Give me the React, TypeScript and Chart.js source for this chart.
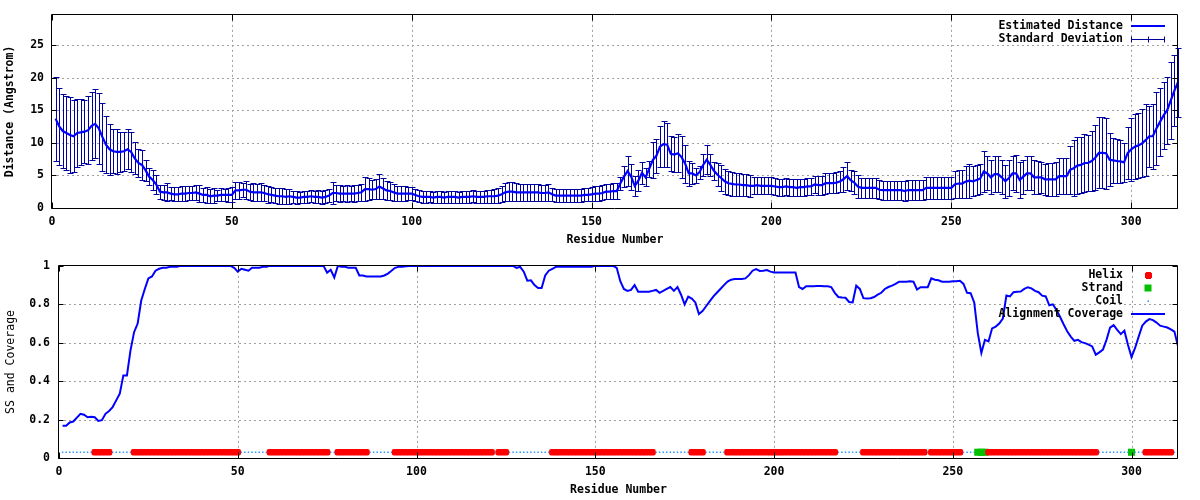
import React, { useEffect, useRef } from "react";
import { Chart, registerables } from "chart.js";

Chart.register(...registerables);

const FONT = '"DejaVu Sans Mono", "Liberation Mono", monospace';

// ---------- data ----------
const residueCount = 313;
const residues = Array.from({ length: residueCount }, (_, i) => i + 1);

const distance = [
  13.7, 12.5, 11.8, 11.5, 11.2, 11.0, 11.5, 11.6, 11.7, 11.9,
  12.6, 12.9, 12.2, 10.9, 9.7, 9.0, 8.7, 8.6, 8.6, 8.7,
  9.0, 8.6, 7.6, 6.9, 6.6, 5.8, 4.8, 4.3, 3.6, 2.5,
  2.4, 2.4, 2.2, 2.1, 2.1, 2.2, 2.2, 2.3, 2.3, 2.4,
  2.2, 2.0, 2.0, 1.8, 1.9, 1.9, 2.0, 2.0, 2.0, 2.0,
  2.7, 2.7, 2.8, 2.8, 2.5, 2.4, 2.4, 2.4, 2.3, 2.1,
  2.0, 1.9, 1.8, 1.8, 1.7, 1.8, 1.7, 1.6, 1.6, 1.7,
  1.7, 1.8, 1.7, 1.7, 1.6, 1.7, 1.9, 2.3, 2.3, 2.2,
  2.2, 2.2, 2.2, 2.2, 2.3, 2.4, 2.9, 2.9, 2.8, 2.9,
  3.3, 3.0, 2.7, 2.6, 2.4, 2.2, 2.2, 2.2, 2.2, 2.2,
  2.0, 1.8, 1.7, 1.7, 1.7, 1.6, 1.7, 1.7, 1.6, 1.7,
  1.7, 1.7, 1.6, 1.7, 1.7, 1.7, 1.8, 1.7, 1.7, 1.7,
  1.8, 1.8, 1.8, 1.9, 2.1, 2.4, 2.5, 2.5, 2.4, 2.4,
  2.4, 2.4, 2.4, 2.4, 2.4, 2.3, 2.3, 2.4, 2.1, 1.9,
  1.9, 1.9, 1.9, 1.9, 1.9, 1.9, 1.9, 2.0, 2.0, 2.1,
  2.2, 2.2, 2.3, 2.5, 2.5, 2.6, 2.6, 3.8, 4.8, 5.65,
  4.8, 3.4, 4.2, 5.4, 4.7, 6.0, 7.35, 8.0, 9.4, 9.8,
  9.7, 8.3, 8.2, 8.4, 7.8, 6.8, 5.3, 5.3, 5.0, 5.5,
  6.6, 7.4, 6.6, 5.7, 5.1, 4.6, 4.1, 3.8, 3.7, 3.6,
  3.6, 3.5, 3.5, 3.4, 3.4, 3.5, 3.4, 3.4, 3.4, 3.4,
  3.3, 3.2, 3.2, 3.3, 3.2, 3.2, 3.1, 3.2, 3.2, 3.3,
  3.3, 3.6, 3.5, 3.5, 3.8, 3.8, 3.8, 3.9, 4.05, 4.4,
  4.9, 4.25, 3.9, 3.3, 3.1, 3.1, 3.1, 3.1, 3.1, 2.8,
  2.75, 2.75, 2.75, 2.75, 2.75, 2.75, 2.6, 2.75, 2.75, 2.75,
  2.75, 2.75, 3.1, 3.1, 3.1, 3.1, 3.1, 3.1, 3.1, 3.1,
  3.65, 3.75, 3.75, 4.05, 4.2, 4.1, 4.3, 4.5, 5.6, 5.3,
  4.7, 5.2, 5.2, 4.7, 4.1, 4.6, 5.3, 5.3, 4.3, 4.8,
  5.3, 5.3, 4.7, 4.7, 4.7, 4.4, 4.4, 4.4, 4.4, 4.9,
  4.9, 4.9, 5.85, 6.1, 6.5, 6.6, 6.9, 6.9, 7.2, 7.7,
  8.45, 8.45, 8.4, 7.4, 7.3, 7.2, 7.15, 7.0, 8.4, 9.0,
  9.4, 9.6, 9.9, 10.4, 11.0, 11.0, 12.2, 13.2, 14.2, 15.0,
  16.5, 18.0, 19.3,
];

const stdDev = [
  6.45, 5.95, 5.7, 5.65, 5.85, 5.55, 5.2, 5.05, 4.85, 5.2,
  5.2, 5.3, 5.4, 5.25, 4.35, 3.95, 3.35, 3.45, 3.1, 3.0,
  3.05, 3.05, 2.45, 2.1, 2.25, 1.6, 1.3, 1.55, 1.45, 1.05,
  1.2, 1.4, 1.0, 1.05, 1.05, 1.15, 1.1, 1.05, 1.0, 1.2,
  1.3, 1.1, 1.2, 1.1, 1.1, 0.9, 1.0, 0.9, 1.05, 1.15,
  1.35, 1.3, 1.1, 1.35, 1.2, 1.4, 1.35, 1.4, 1.3, 1.3,
  1.15, 1.2, 1.25, 1.25, 1.15, 1.15, 0.95, 0.95, 0.9, 0.95,
  0.95, 0.9, 0.95, 1.0, 0.95, 1.0, 1.0, 1.65, 1.25, 1.25,
  1.2, 1.25, 1.2, 1.25, 1.2, 1.3, 1.85, 1.7, 1.45, 1.5,
  1.9, 1.6, 1.45, 1.35, 1.3, 1.2, 1.1, 1.1, 1.05, 1.0,
  0.95, 0.9, 0.9, 0.9, 0.85, 0.9, 0.9, 0.9, 0.9, 0.9,
  0.9, 0.9, 0.85, 0.9, 0.9, 0.9, 0.9, 0.9, 0.9, 0.95,
  1.0, 1.0, 1.05, 1.1, 1.2, 1.4, 1.45, 1.45, 1.4, 1.35,
  1.35, 1.35, 1.35, 1.35, 1.35, 1.3, 1.3, 1.35, 1.0, 0.95,
  0.95, 0.95, 0.95, 0.95, 0.95, 0.95, 0.95, 1.0, 1.0, 1.1,
  1.15, 1.15, 1.15, 1.15, 1.15, 1.2, 1.2, 1.0, 1.6, 2.25,
  2.0, 1.5, 1.6, 1.7, 1.4, 1.2, 2.75, 2.65, 3.1, 3.5,
  3.4, 2.7, 2.75, 2.9, 3.25, 2.9, 1.95, 1.65, 1.15, 1.0,
  1.65, 2.25, 1.75, 1.4, 1.8, 1.95, 1.95, 1.85, 1.8, 1.75,
  1.75, 1.7, 1.7, 1.65, 1.3, 1.3, 1.3, 1.3, 1.3, 1.3,
  1.3, 1.3, 1.3, 1.3, 1.3, 1.3, 1.3, 1.3, 1.3, 1.3,
  1.3, 1.3, 1.45, 1.45, 1.6, 1.5, 1.5, 1.65, 1.65, 1.9,
  2.1, 1.65, 1.7, 1.8, 1.5, 1.5, 1.5, 1.5, 1.5, 1.45,
  1.45, 1.45, 1.45, 1.45, 1.45, 1.45, 1.5, 1.55, 1.55, 1.55,
  1.55, 1.55, 1.7, 1.7, 1.7, 1.7, 1.7, 1.7, 1.7, 1.7,
  2.05, 2.15, 2.15, 2.45, 2.6, 2.3, 2.3, 2.3, 3.1, 2.6,
  2.6, 2.8, 2.7, 2.6, 2.5, 2.8, 2.6, 2.9, 2.7, 2.6,
  2.6, 2.6, 2.6, 2.5, 2.4, 2.4, 2.5, 2.5, 2.6, 2.7,
  2.8, 2.8, 3.65, 4.3, 4.4, 4.3, 4.4, 4.3, 4.6, 5.0,
  5.45, 5.45, 5.45, 4.05, 3.5, 3.4, 3.35, 3.0, 4.0, 4.85,
  4.95, 4.95, 5.2, 5.55, 4.65, 5.0, 5.65, 5.25, 5.1, 5.15,
  5.85, 5.5, 5.3,
];

const coverage = [
  0.168, 0.168, 0.185, 0.19, 0.21, 0.23, 0.225, 0.212, 0.215, 0.212,
  0.193, 0.197, 0.23, 0.245, 0.265, 0.30, 0.335, 0.43, 0.43, 0.56,
  0.655, 0.70, 0.82, 0.88, 0.935, 0.945, 0.975, 0.985, 0.99, 0.99,
  0.995, 0.995, 0.995, 1, 1, 1, 1, 1, 1, 1,
  1, 1, 1, 1, 1, 1, 1, 1, 0.99, 0.97,
  0.985, 0.98, 0.975, 0.99, 0.99, 0.99, 0.995, 0.995, 1, 1,
  1, 1, 1, 1, 1, 1, 1, 1, 1, 1,
  1, 1, 1, 1, 0.965, 0.98, 0.94, 1, 0.995, 0.995,
  0.99, 0.99, 0.99, 0.95, 0.95, 0.945, 0.945, 0.945, 0.945, 0.945,
  0.95, 0.96, 0.975, 0.99, 0.995, 0.995, 0.998, 1, 1, 1,
  1, 1, 1, 1, 1, 1, 1, 1, 1, 1,
  1, 1, 1, 1, 1, 1, 1, 1, 1, 1,
  1, 1, 1, 1, 1, 1, 1, 0.99, 0.995, 0.97,
  0.923, 0.925, 0.9, 0.885, 0.885, 0.95, 0.975, 0.985, 0.995, 0.995,
  0.995, 0.995, 0.995, 0.995, 0.995, 0.995, 0.995, 0.995, 0.995, 1,
  1, 1, 1, 1, 1, 0.99, 0.92, 0.88, 0.87, 0.875,
  0.9, 0.865, 0.865, 0.865, 0.865, 0.87, 0.875, 0.86, 0.87, 0.88,
  0.89, 0.87, 0.89, 0.85, 0.80, 0.84, 0.83, 0.81, 0.75, 0.765,
  0.79, 0.815, 0.84, 0.86, 0.88, 0.9, 0.918, 0.928, 0.932, 0.932,
  0.932, 0.935, 0.952, 0.975, 0.983, 0.974, 0.975, 0.978, 0.97, 0.966,
  0.966, 0.966, 0.966, 0.966, 0.966, 0.966, 0.89, 0.88, 0.894, 0.894,
  0.894, 0.895, 0.895, 0.894, 0.894, 0.89, 0.86, 0.838, 0.835, 0.834,
  0.812, 0.81, 0.897, 0.88, 0.832, 0.83, 0.832, 0.838, 0.85, 0.86,
  0.88, 0.89, 0.897, 0.906, 0.918, 0.918, 0.918, 0.92, 0.918, 0.877,
  0.889, 0.889, 0.889, 0.935, 0.928, 0.925, 0.918, 0.918, 0.918, 0.92,
  0.92, 0.923, 0.906, 0.86, 0.858, 0.81, 0.65, 0.547, 0.615, 0.607,
  0.675, 0.684, 0.70, 0.726, 0.846, 0.841, 0.863, 0.865, 0.867, 0.88,
  0.889, 0.883, 0.87, 0.863, 0.845, 0.841, 0.795, 0.80, 0.77, 0.735,
  0.696, 0.66, 0.632, 0.61, 0.615, 0.603, 0.598, 0.59, 0.581, 0.538,
  0.55, 0.564, 0.615, 0.679, 0.692, 0.667, 0.645, 0.663, 0.59, 0.525,
  0.573, 0.632, 0.689, 0.71, 0.723, 0.718, 0.705, 0.689, 0.684, 0.679,
  0.67, 0.658, 0.581,
];

// secondary structure segments (residue ranges, inclusive)
const helixSegments = [
  [10, 14], [21, 50], [59, 75], [78, 86], [94, 121], [123, 125], [138, 166],
  [177, 180], [187, 217], [225, 242], [244, 252], [260, 290], [304, 311],
];
const strandSegments = [[257, 259], [300, 300]];
const ssLevel = 0.03;

// axes
const xRange = [0, 313];
const distRange = [0, 29.6];
const covRange = [0, 1];
const xTicks = [0, 50, 100, 150, 200, 250, 300];
const distTicks = [0, 5, 10, 15, 20, 25];
const covTicks = [0, 0.2, 0.4, 0.6, 0.8, 1];
const covTickLabels = ["0", "0.2", "0.4", "0.6", "0.8", "1"];

const topLegendLabels = ["Estimated Distance", "Standard Deviation"];
const bottomLegendLabels = ["Helix", "Strand", "Coil", "Alignment Coverage"];
const xTitle = "Residue Number";
const topYTitle = "Distance (Angstrom)";
const bottomYTitle = "SS and Coverage";

// colours
const LINE_BLUE = "#0000ff";
const ERR_BLUE = "#0000a0";
const HELIX_RED = "#ff0000";
const STRAND_GREEN = "#00c000";
const COIL_BLUE = "#1e90ff";
const GRID_GRAY = "#a0a0a0";

// ---------- helpers ----------
const inSegments = (r: number, segs: number[][]) => segs.some(([a, b]) => r >= a && r <= b);
const ssClass = residues.map((r) =>
  inSegments(r, strandSegments) ? "E" : inSegments(r, helixSegments) ? "H" : "C"
);

const tickFont = { family: FONT, size: 11.5, weight: "bold" as const };

function makeGridFramePlugin(xt: number[], yt: number[]) {
  return {
    id: "gridFrame",
    beforeDatasetsDraw(chart: any) {
      const { ctx, chartArea: a, scales } = chart;
      ctx.save();
      ctx.strokeStyle = GRID_GRAY;
      ctx.lineWidth = 1;
      ctx.setLineDash([2, 3]);
      ctx.beginPath();
      for (const v of xt) {
        const px = Math.round(scales.x.getPixelForValue(v)) + 0.5;
        if (px <= a.left + 1 || px >= a.right - 1) continue;
        ctx.moveTo(px, a.top);
        ctx.lineTo(px, a.bottom);
      }
      for (const v of yt) {
        const py = Math.round(scales.y.getPixelForValue(v)) + 0.5;
        if (py <= a.top + 1 || py >= a.bottom - 1) continue;
        ctx.moveTo(a.left, py);
        ctx.lineTo(a.right, py);
      }
      ctx.stroke();
      ctx.restore();
    },
    afterDatasetsDraw(chart: any) {
      const { ctx, chartArea: a, scales } = chart;
      const L = Math.round(a.left) - 0.5;
      const R = Math.round(a.right) - 0.5;
      const T = Math.round(a.top) - 0.5;
      const B = Math.round(a.bottom) + 0.5;
      ctx.save();
      ctx.strokeStyle = "#000";
      ctx.lineWidth = 1;
      ctx.setLineDash([]);
      ctx.beginPath();
      ctx.rect(L, T, R - L, B - T);
      for (const v of xt) {
        const px = Math.round(scales.x.getPixelForValue(v)) + 0.5;
        ctx.moveTo(px, B);
        ctx.lineTo(px, B - 6);
        ctx.moveTo(px, T);
        ctx.lineTo(px, T + 6);
      }
      for (const v of yt) {
        const py = Math.round(scales.y.getPixelForValue(v)) + 0.5;
        ctx.moveTo(L, py);
        ctx.lineTo(L + 5, py);
        ctx.moveTo(R, py);
        ctx.lineTo(R - 5, py);
      }
      ctx.stroke();
      ctx.restore();
    },
  };
}

const errorBarPlugin = {
  id: "errorBars",
  beforeDatasetsDraw(chart: any) {
    const { ctx, scales } = chart;
    ctx.save();
    ctx.strokeStyle = ERR_BLUE;
    ctx.lineWidth = 1;
    ctx.beginPath();
    residues.forEach((r, i) => {
      const px = Math.round(scales.x.getPixelForValue(r)) + 0.5;
      const top = Math.round(scales.y.getPixelForValue(distance[i] + stdDev[i])) + 0.5;
      const bot = Math.round(scales.y.getPixelForValue(Math.max(0, distance[i] - stdDev[i]))) + 0.5;
      ctx.moveTo(px, top);
      ctx.lineTo(px, bot);
      ctx.moveTo(px - 3, top);
      ctx.lineTo(px + 3, top);
      ctx.moveTo(px - 3, bot);
      ctx.lineTo(px + 3, bot);
    });
    ctx.stroke();
    ctx.restore();
  },
};

const legendTextX = 1123;
const legendSampleX1 = 1131;
const legendSampleX2 = 1165;
const legendMarkX = 1148;

const topLegendPlugin = {
  id: "topLegend",
  afterDraw(chart: any) {
    const { ctx } = chart;
    const rows = [26, 39];
    ctx.save();
    ctx.font = `bold 11.5px ${FONT}`;
    ctx.fillStyle = "#000";
    ctx.textAlign = "right";
    ctx.textBaseline = "middle";
    topLegendLabels.forEach((t, i) => ctx.fillText(t, legendTextX, rows[i]));
    ctx.strokeStyle = LINE_BLUE;
    ctx.lineWidth = 2;
    ctx.beginPath();
    ctx.moveTo(legendSampleX1, rows[0]);
    ctx.lineTo(legendSampleX2, rows[0]);
    ctx.stroke();
    ctx.strokeStyle = ERR_BLUE;
    ctx.lineWidth = 1;
    const y = rows[1] + 0.5;
    ctx.beginPath();
    ctx.moveTo(legendSampleX1, y);
    ctx.lineTo(legendSampleX2, y);
    ctx.moveTo(legendSampleX1 + 0.5, y - 3);
    ctx.lineTo(legendSampleX1 + 0.5, y + 3);
    ctx.moveTo(legendSampleX2 - 0.5, y - 3);
    ctx.lineTo(legendSampleX2 - 0.5, y + 3);
    ctx.moveTo(legendMarkX + 0.5, y - 3);
    ctx.lineTo(legendMarkX + 0.5, y + 3);
    ctx.stroke();
    ctx.restore();
  },
};

const bottomLegendPlugin = {
  id: "bottomLegend",
  afterDraw(chart: any) {
    const { ctx } = chart;
    const rows = [25, 38, 51, 64];
    ctx.save();
    ctx.font = `bold 11.5px ${FONT}`;
    ctx.fillStyle = "#000";
    ctx.textAlign = "right";
    ctx.textBaseline = "middle";
    bottomLegendLabels.forEach((t, i) => ctx.fillText(t, legendTextX, rows[i]));
    ctx.fillStyle = HELIX_RED;
    ctx.fillRect(legendMarkX - 2, rows[0] - 3, 5, 7);
    ctx.fillRect(legendMarkX - 3, rows[0] - 2, 7, 5);
    ctx.fillStyle = STRAND_GREEN;
    ctx.fillRect(legendMarkX - 3.5, rows[1] - 3.5, 7, 7);
    ctx.fillStyle = COIL_BLUE;
    ctx.fillRect(legendMarkX - 0.5, rows[2] - 0.5, 1.5, 1.5);
    ctx.strokeStyle = LINE_BLUE;
    ctx.lineWidth = 2;
    ctx.beginPath();
    ctx.moveTo(legendSampleX1, rows[3]);
    ctx.lineTo(legendSampleX2, rows[3]);
    ctx.stroke();
    ctx.restore();
  },
};

function xScaleOptions() {
  return {
    type: "linear" as const,
    min: xRange[0],
    max: xRange[1],
    afterBuildTicks: (s: any) => {
      s.ticks = xTicks.map((v) => ({ value: v }));
    },
    afterFit: (s: any) => {
      s.height = 42;
    },
    grid: { display: false, drawTicks: false },
    border: { display: false },
    ticks: {
      padding: 7,
      color: "#000",
      font: tickFont,
      maxRotation: 0,
      autoSkip: false,
      callback: (v: any) => String(v),
    },
    title: {
      display: true,
      text: xTitle,
      color: "#000",
      font: tickFont,
      padding: { top: 0, bottom: 3 },
    },
  };
}

export default function App() {
  const topRef = useRef<HTMLCanvasElement | null>(null);
  const bottomRef = useRef<HTMLCanvasElement | null>(null);

  useEffect(() => {
    if (!topRef.current || !bottomRef.current) return;

    const top = new Chart(topRef.current, {
      type: "line",
      data: {
        datasets: [
          {
            label: topLegendLabels[0],
            data: residues.map((r, i) => ({ x: r, y: distance[i] })),
            borderColor: LINE_BLUE,
            borderWidth: 2.2,
            pointRadius: 0,
            tension: 0,
            fill: false,
          },
        ],
      },
      options: {
        responsive: false,
        animation: false,
        events: [],
        layout: { padding: { top: 14, right: 22, left: 0, bottom: 0 } },
        plugins: { legend: { display: false }, tooltip: { enabled: false } },
        scales: {
          x: xScaleOptions(),
          y: {
            type: "linear",
            min: distRange[0],
            max: distRange[1],
            afterBuildTicks: (s: any) => {
              s.ticks = distTicks.map((v) => ({ value: v }));
            },
            afterFit: (s: any) => {
              s.width = 52;
            },
            grid: { display: false, drawTicks: false },
            border: { display: false },
            ticks: {
              padding: 8,
              color: "#000",
              font: tickFont,
              callback: (v: any) => String(v),
            },
            title: {
              display: true,
              text: topYTitle,
              color: "#000",
              font: tickFont,
              padding: { top: 3, bottom: 0 },
            },
          },
        },
      } as any,
      plugins: [makeGridFramePlugin(xTicks, distTicks), errorBarPlugin, topLegendPlugin],
    });

    const helixData = residues.filter((_, i) => ssClass[i] === "H").map((r) => ({ x: r, y: ssLevel }));
    const strandData = residues.filter((_, i) => ssClass[i] === "E").map((r) => ({ x: r, y: ssLevel }));
    const coilData = residues.filter((_, i) => ssClass[i] === "C").map((r) => ({ x: r, y: ssLevel }));

    const bottom = new Chart(bottomRef.current, {
      type: "line",
      data: {
        datasets: [
          {
            label: bottomLegendLabels[0],
            data: helixData,
            showLine: false,
            pointStyle: "rectRounded",
            pointRadius: 3.8,
            pointBorderWidth: 0,
            pointBackgroundColor: HELIX_RED,
            borderColor: HELIX_RED,
          },
          {
            label: bottomLegendLabels[1],
            data: strandData,
            showLine: false,
            pointStyle: "rect",
            pointRadius: 5,
            pointBorderWidth: 0,
            pointBackgroundColor: STRAND_GREEN,
            borderColor: STRAND_GREEN,
          },
          {
            label: bottomLegendLabels[2],
            data: coilData,
            showLine: false,
            pointStyle: "rect",
            pointRadius: 1,
            pointBorderWidth: 0,
            pointBackgroundColor: COIL_BLUE,
            borderColor: COIL_BLUE,
          },
          {
            label: bottomLegendLabels[3],
            data: residues.map((r, i) => ({ x: r, y: coverage[i] })),
            borderColor: LINE_BLUE,
            borderWidth: 2,
            pointRadius: 0,
            tension: 0,
            fill: false,
          },
        ],
      },
      options: {
        responsive: false,
        animation: false,
        events: [],
        layout: { padding: { top: 13, right: 22, left: 0, bottom: 0 } },
        plugins: { legend: { display: false }, tooltip: { enabled: false } },
        scales: {
          x: xScaleOptions(),
          y: {
            type: "linear",
            min: covRange[0],
            max: covRange[1],
            afterBuildTicks: (s: any) => {
              s.ticks = covTicks.map((v) => ({ value: v }));
            },
            afterFit: (s: any) => {
              s.width = 59;
            },
            grid: { display: false, drawTicks: false },
            border: { display: false },
            ticks: {
              padding: 9,
              color: "#000",
              font: tickFont,
              callback: (_v: any, idx: number) => covTickLabels[idx],
            },
            title: {
              display: true,
              text: bottomYTitle,
              color: "#000",
              font: { family: FONT, size: 11.5, weight: "normal" },
              padding: { top: 4, bottom: 0 },
            },
          },
        },
      } as any,
      plugins: [makeGridFramePlugin(xTicks, covTicks), bottomLegendPlugin],
    });

    return () => {
      top.destroy();
      bottom.destroy();
    };
  }, []);

  return (
    <div
      style={{
        position: "absolute",
        left: 0,
        top: 0,
        width: 1200,
        height: 500,
        background: "#fff",
      }}
    >
      <canvas ref={topRef} width={1200} height={250} style={{ display: "block" }} />
      <canvas ref={bottomRef} width={1200} height={250} style={{ display: "block" }} />
    </div>
  );
}
